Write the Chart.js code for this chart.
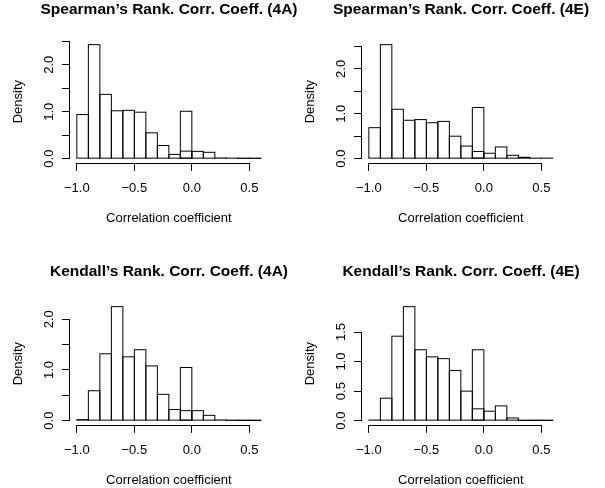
<!DOCTYPE html>
<html>
<head>
<title>Rank correlation histograms</title>
<script src="https://cdn.jsdelivr.net/npm/chart.js"></script>
<style>
  body { margin: 0; background: #fff; overflow: hidden; }
  canvas { position: absolute; }
</style>
</head>
<body>
<canvas id="p1" width="338" height="227" style="left:0px;top:0px"></canvas>
<canvas id="p2" width="338" height="227" style="left:292px;top:0px"></canvas>
<canvas id="p3" width="338" height="227" style="left:0px;top:262px"></canvas>
<canvas id="p4" width="338" height="227" style="left:292px;top:262px"></canvas>
<script>
// histogram bins are 0.1 wide, from -1.0 to 0.6 (midpoints)
const binMids = [-0.95, -0.85, -0.75, -0.65, -0.55, -0.45, -0.35, -0.25, -0.15, -0.05, 0.05, 0.15, 0.25, 0.35, 0.45, 0.55];
// the extra tall bar sitting on top of the -0.1..0 bin
const spikeMid = [-0.05];

const spearman4A = [0.94, 2.43, 1.37, 1.02, 1.03, 0.99, 0.55, 0.28, 0.09, 0.16, 0.155, 0.135, 0.014, 0.01, 0.005, 0.005];
const spearman4ASpike = [1.01];
const spearman4E = [0.69, 2.54, 1.10, 0.855, 0.87, 0.80, 0.83, 0.50, 0.28, 0.16, 0.12, 0.26, 0.074, 0.03, 0.01, 0.01];
const spearman4ESpike = [1.14];
const kendall4A = [0.02, 0.59, 1.32, 2.25, 1.26, 1.40, 1.08, 0.52, 0.22, 0.197, 0.197, 0.105, 0.013, 0.005, 0.003, 0.003];
const kendall4ASpike = [1.05];
const kendall4E = [0.01, 0.38, 1.43, 1.93, 1.20, 1.08, 1.05, 0.85, 0.50, 0.20, 0.16, 0.25, 0.045, 0.003, 0.003, 0.003];
const kendall4ESpike = [1.20];

const xTicks = [-1.0, -0.5, 0.0, 0.5];
const yTicksA = [0, 0.5, 1.0, 1.5, 2.0, 2.5];
const yLabelsA = ['0.0', '', '1.0', '', '2.0', ''];
const yTicksB = [0, 0.5, 1.0, 1.5, 2.0];
const yLabelsB = ['0.0', '', '1.0', '', '2.0'];
const yTicksC = [0, 0.5, 1.0, 1.5];
const yLabelsC = ['0.0', '0.5', '1.0', '1.5'];

const FONT = '"Liberation Sans", Arial, Helvetica, sans-serif';

function fmt(v) {
    if (Math.abs(v) < 1e-9) return '0.0';
    return (v < 0 ? '\u2212' : '') + Math.abs(v).toFixed(1);
}

// R style: open rectangles with shared edges, axis line only from first to last tick
const rStyle = {
    id: 'rStyle',
    afterDatasetsDraw(chart) {
        const ctx = chart.ctx;
        ctx.save();
        ctx.strokeStyle = '#000';
        ctx.lineWidth = 1;
        chart.data.datasets.forEach((ds, i) => {
            chart.getDatasetMeta(i).data.forEach(bar => {
                const p = bar.getProps(['x', 'y', 'base', 'width'], true);
                ctx.strokeRect(p.x - p.width / 2, p.y, p.width, p.base - p.y);
            });
        });
        const xs = chart.scales.x, ys = chart.scales.y;
        const ax = Math.round(xs.top - 0.5) + 0.5;
        ctx.beginPath();
        ctx.moveTo(Math.round(xs.getPixelForValue(xTicks[0]) - 0.5) + 0.5, ax);
        ctx.lineTo(Math.round(xs.getPixelForValue(xTicks[xTicks.length - 1]) - 0.5) + 0.5, ax);
        const ay = Math.round(ys.right - 0.5) + 0.5;
        const yt = ys.ticks;
        ctx.moveTo(ay, Math.round(ys.getPixelForValue(yt[0].value) - 0.5) + 0.5);
        ctx.lineTo(ay, Math.round(ys.getPixelForValue(yt[yt.length - 1].value) - 0.5) + 0.5);
        ctx.stroke();
        ctx.restore();
    }
};

function makeHist(id, title, values, spike, yTicks, yLabels) {
    const top = Math.max(...values, ...spike);
    new Chart(document.getElementById(id), {
        type: 'bar',
        data: {
            datasets: [
                {
                    data: spikeMid.map((x, i) => ({ x: x, y: spike[i] })),
                    backgroundColor: 'rgba(0,0,0,0)',
                    borderWidth: 0
                },
                {
                    data: binMids.map((x, i) => ({ x: x, y: values[i] })),
                    backgroundColor: 'rgba(0,0,0,0)',
                    borderWidth: 0
                }
            ]
        },
        options: {
            responsive: false,
            animation: false,
            events: [],
            grouped: false,
            barPercentage: 1,
            categoryPercentage: 1,
            layout: { padding: 0, autoPadding: false },
            plugins: {
                legend: { display: false },
                tooltip: { enabled: false },
                title: {
                    display: true,
                    text: title,
                    color: '#000',
                    font: { family: FONT, size: 15.5, weight: 'bold' },
                    padding: { top: 0.7, bottom: 20.8 }
                }
            },
            scales: {
                x: {
                    type: 'linear',
                    offset: false,
                    min: -1.064,
                    max: 0.664,
                    afterFit: s => { s.height = 63.8; },
                    afterBuildTicks: s => { s.ticks = xTicks.map(v => ({ value: v })); },
                    border: { display: false },
                    grid: { offset: false, drawOnChartArea: false, drawTicks: true, tickLength: 7.6, color: '#000', lineWidth: 1 },
                    ticks: {
                        color: '#000',
                        font: { family: FONT, size: 13 },
                        padding: 9.5,
                        maxRotation: 0,
                        autoSkip: false,
                        callback: v => fmt(v)
                    },
                    title: {
                        display: true,
                        text: 'Correlation coefficient',
                        color: '#000',
                        font: { family: FONT, size: 13 },
                        padding: { top: 0, bottom: 1.0 }
                    }
                },
                y: {
                    type: 'linear',
                    min: -0.04 * top,
                    max: 1.04 * top,
                    afterFit: s => { s.width = 69.5; },
                    afterBuildTicks: s => { s.ticks = yTicks.map(v => ({ value: v })); },
                    border: { display: false },
                    grid: { drawOnChartArea: false, drawTicks: true, tickLength: 7.6, color: '#000', lineWidth: 1 },
                    ticks: {
                        color: '#000',
                        font: { family: FONT, size: 13 },
                        padding: 3.6,
                        minRotation: 90,
                        maxRotation: 90,
                        crossAlign: 'center',
                        autoSkip: false,
                        callback: (v, i) => yLabels[i]
                    },
                    title: {
                        display: true,
                        text: 'Density',
                        color: '#000',
                        font: { family: FONT, size: 13 },
                        padding: { top: 10.5, bottom: 0 }
                    }
                },
                // empty right margin so the title centres over the plot like R's
                yRight: {
                    type: 'linear',
                    position: 'right',
                    afterFit: s => { s.width = 69.8; },
                    border: { display: false },
                    grid: { display: false },
                    ticks: { display: false }
                }
            }
        },
        plugins: [rStyle]
    });
}

makeHist('p1', 'Spearman\u2019s Rank. Corr. Coeff. (4A)', spearman4A, spearman4ASpike, yTicksA, yLabelsA);
makeHist('p2', 'Spearman\u2019s Rank. Corr. Coeff. (4E)', spearman4E, spearman4ESpike, yTicksA, yLabelsA);
makeHist('p3', 'Kendall\u2019s Rank. Corr. Coeff. (4A)', kendall4A, kendall4ASpike, yTicksB, yLabelsB);
makeHist('p4', 'Kendall\u2019s Rank. Corr. Coeff. (4E)', kendall4E, kendall4ESpike, yTicksC, yLabelsC);
</script>
</body>
</html>
